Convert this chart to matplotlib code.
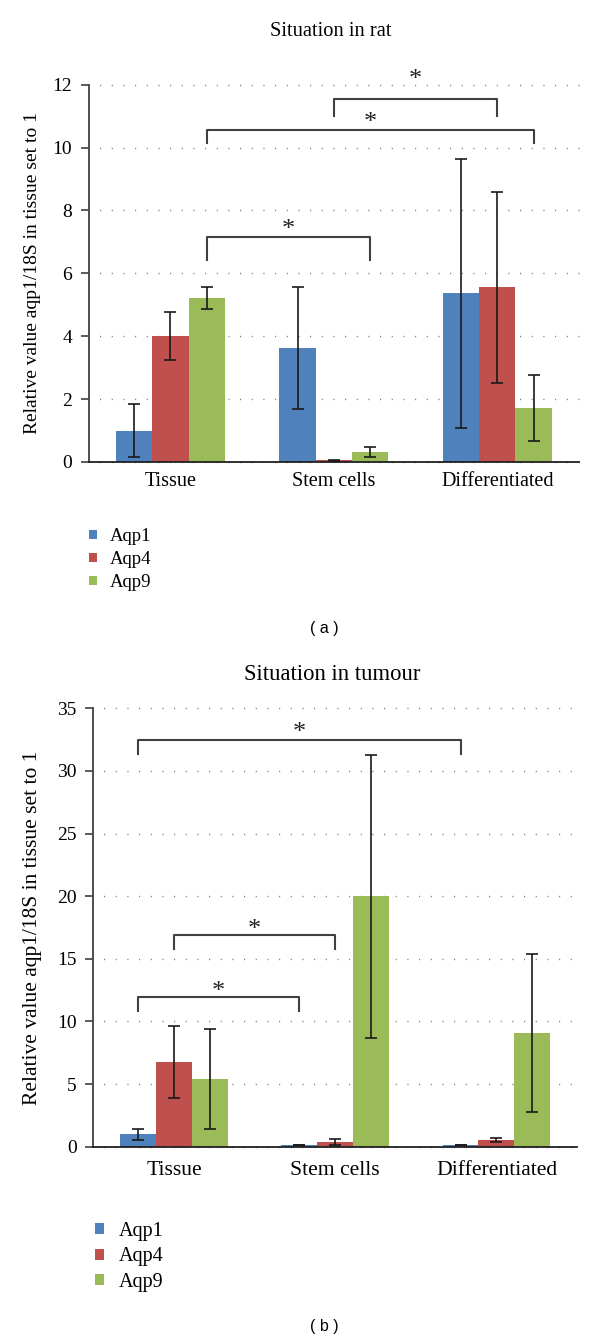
import matplotlib
matplotlib.use("Agg")
import matplotlib.pyplot as plt
import numpy as np

plt.rcParams['font.family'] = ['Liberation Serif', 'DejaVu Serif']

categories = ["Tissue", "Stem cells", "Differentiated"]
series = ["Aqp1", "Aqp4", "Aqp9"]
colors = ["#4F81BD", "#C0504D", "#9BBB59"]

# Panel a: situation in rat
rat_aqp1 = [1.0, 3.63, 5.36]
rat_aqp4 = [4.0, 0.05, 5.55]
rat_aqp9 = [5.23, 0.32, 1.72]
rat_err_aqp1 = [0.85, 1.95, 4.27]
rat_err_aqp4 = [0.77, 0.02, 3.03]
rat_err_aqp9 = [0.35, 0.17, 1.05]

# Panel b: situation in tumour
tum_aqp1 = [1.0, 0.10, 0.10]
tum_aqp4 = [6.74, 0.39, 0.52]
tum_aqp9 = [5.39, 20.0, 9.1]
tum_err_aqp1 = [0.43, 0.0, 0.0]
tum_err_aqp4 = [2.88, 0.22, 0.17]
tum_err_aqp9 = [4.0, 11.3, 6.3]

rat_yticks = [0, 2, 4, 6, 8, 10, 12]
tum_yticks = [0, 5, 10, 15, 20, 25, 30, 35]

# significance brackets: (series_i, cat_i, series_j, cat_j, height)
rat_sig = [(1, 1, 1, 2, 11.53), (2, 0, 2, 2, 10.57), (2, 0, 2, 1, 7.16)]
tum_sig = [(0, 0, 0, 2, 32.45), (1, 0, 1, 1, 16.87), (0, 0, 0, 1, 11.92)]

W = 600
H = 1341
fig = plt.figure(figsize=(W / 100, H / 100), dpi=100)


def px_rect(l, t, r, b):
    return [l / W, 1 - b / H, (r - l) / W, (b - t) / H]


bw = 0.222
offsets = [-bw, 0.0, bw]


def draw_panel(ax, vals, errs, yticks, sig, drops, star_gaps, catfs, catpad):
    x = np.arange(len(categories))
    handles = []
    for k in range(3):
        h = ax.bar(x + offsets[k], vals[k], width=bw, color=colors[k],
                   label=series[k], zorder=2, linewidth=0)
        handles.append(h)
        ax.errorbar(x + offsets[k], vals[k], yerr=errs[k], fmt='none',
                    ecolor='#1a1a1a', elinewidth=1.2, capsize=4.2,
                    capthick=1.2, zorder=3)
    ax.set_xlim(-0.5, 2.5)
    ax.set_ylim(0, yticks[-1])
    ax.set_yticks(yticks)
    ax.set_xticks(x)
    ax.set_xticklabels(categories, fontsize=catfs)
    ax.tick_params(axis='x', length=0, pad=catpad)
    ax.tick_params(axis='y', length=5.5, width=1.2, color='#404040',
                   labelsize=14, pad=6.5)
    for s in ['top', 'right']:
        ax.spines[s].set_visible(False)
    ax.spines['left'].set_color('#404040')
    ax.spines['left'].set_linewidth(1.3)
    ax.spines['bottom'].set_color('#202020')
    ax.spines['bottom'].set_linewidth(1.3)
    ax.set_axisbelow(True)
    ax.yaxis.grid(True, color='#7a7a7a', linewidth=1.0,
                  linestyle=(0.8, (0.8, 7.6)))
    for gl in ax.yaxis.get_gridlines():
        gl.set_clip_on(False)
    for (si, ci, sj, cj, hgt), drop, gap in zip(sig, drops, star_gaps):
        x1 = ci + offsets[si]
        x2 = cj + offsets[sj]
        ax.plot([x1, x1, x2, x2], [hgt - drop, hgt, hgt, hgt - drop],
                color='#404040', linewidth=1.5, clip_on=False, zorder=4)
        ax.annotate("*", xy=((x1 + x2) / 2, hgt), xytext=(0, (gap - 4.5) * 0.72),
                    textcoords='offset points', ha='center', va='center',
                    fontsize=19, color='#222222', annotation_clip=False)
    return handles


# ---------- panel a ----------
axa = fig.add_axes(px_rect(88.7, 84.7, 579, 462))
ha = draw_panel(axa,
                [rat_aqp1, rat_aqp4, rat_aqp9],
                [rat_err_aqp1, rat_err_aqp4, rat_err_aqp9],
                rat_yticks, rat_sig, [0.52, 0.41, 0.73], [24, 11, 11],
                14.5, 7.5)
axa.set_ylabel("Relative value aqp1/18S in tissue set to 1", fontsize=14,
               va='center')
axa.yaxis.set_label_coords((33 - 88.7) / (579 - 88.7), 0.5)
fig.text(331 / W, 1 - 31 / H, "Situation in rat", ha='center', va='center',
         fontsize=14.8)
fig.legend(handles=ha, labels=series, loc='center left',
           bbox_to_anchor=(89 / W, 1 - 559.5 / H), frameon=False,
           fontsize=13.5, handlelength=0.4, handleheight=0.4,
           handletextpad=0.7, labelspacing=0.32, borderpad=0,
           borderaxespad=0)
fig.text(324 / W, 1 - 628 / H, "( a )", ha='center', va='center',
         fontsize=11.5, family=['Liberation Sans', 'DejaVu Sans'])

# ---------- panel b ----------
axb = fig.add_axes(px_rect(93.3, 708.3, 577, 1146.7))
hb = draw_panel(axb,
                [tum_aqp1, tum_aqp4, tum_aqp9],
                [tum_err_aqp1, tum_err_aqp4, tum_err_aqp9],
                tum_yticks, tum_sig, [1.1, 1.07, 1.05], [12, 10, 10],
                15.6, 10)
axb.set_ylabel("Relative value aqp1/18S in tissue set to 1", fontsize=15.5,
               va='center')
axb.yaxis.set_label_coords((33 - 93.3) / (577 - 93.3), 0.5)
fig.text(332 / W, 1 - 674 / H, "Situation in tumour", ha='center',
         va='center', fontsize=16.3)
fig.legend(handles=hb, labels=series, loc='center left',
           bbox_to_anchor=(95 / W, 1 - 1257 / H), frameon=False,
           fontsize=14.5, handlelength=0.45, handleheight=0.45,
           handletextpad=0.75, labelspacing=0.32, borderpad=0,
           borderaxespad=0)
fig.text(324 / W, 1 - 1326 / H, "( b )", ha='center', va='center',
         fontsize=11.5, family=['Liberation Sans', 'DejaVu Sans'])

fig.savefig("out.png", dpi=100)
